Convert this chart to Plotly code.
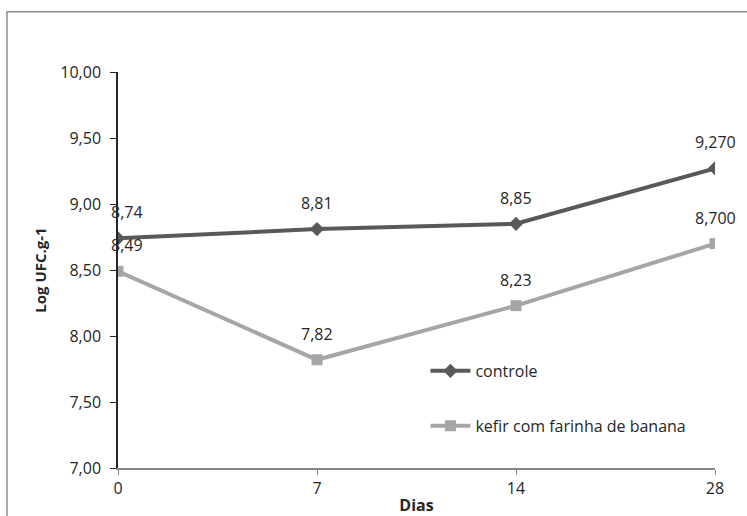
import plotly.graph_objects as go

# Data
dias = ["0", "7", "14", "28"]
controle = [8.74, 8.81, 8.85, 9.27]
kefir_banana = [8.49, 7.82, 8.23, 8.70]
controle_decimals = [2, 2, 2, 3]
kefir_decimals = [2, 2, 2, 3]
y_ticks = [7.0, 7.5, 8.0, 8.5, 9.0, 9.5, 10.0]


def fmt(values, decimals):
    return [f"{v:.{d}f}".replace(".", ",") for v, d in zip(values, decimals)]


FONT = "Open Sans, Liberation Sans, sans-serif"
DARK = "#595959"
LIGHT = "#a6a6a6"
TEXT = "#262626"

fig = go.Figure()

fig.add_trace(go.Scatter(
    x=dias, y=controle, name="controle", legendgroup="a",
    mode="lines+markers",
    line=dict(color=DARK, width=4),
    marker=dict(symbol="diamond", size=11, color=DARK),
))
fig.add_trace(go.Scatter(
    x=dias, y=kefir_banana, name="kefir com farinha de banana", legendgroup="b",
    mode="lines+markers",
    line=dict(color=LIGHT, width=4),
    marker=dict(symbol="square", size=11, color=LIGHT),
))

# Value labels above each point (category axis positions are indices)
for values, decimals in ((controle, controle_decimals), (kefir_banana, kefir_decimals)):
    for i, (y, label) in enumerate(zip(values, fmt(values, decimals))):
        fig.add_annotation(
            x=i, y=y, text=label, showarrow=False,
            yshift=26, xshift=9 if i == 0 else 0,
            font=dict(size=16, color=TEXT, family=FONT),
        )

# Outer chart frame
fig.add_shape(type="rect", xref="paper", yref="paper",
              x0=-0.186, x1=1.3, y0=-0.3, y1=1.152,
              line=dict(color="#8c8c8c", width=1.5), layer="below")

fig.update_layout(
    width=747, height=516,
    margin=dict(l=118, r=32, t=72, b=48, autoexpand=False),
    paper_bgcolor="white", plot_bgcolor="white",
    separators=",.",
    font=dict(family=FONT, size=16, color=TEXT),
    showlegend=True,
    legend=dict(x=0.515, y=0.288, xanchor="left", yanchor="top",
                bgcolor="rgba(0,0,0,0)", tracegroupgap=31,
                traceorder="grouped", itemwidth=40,
                font=dict(size=16, color=TEXT, family=FONT)),
    xaxis=dict(
        type="category", range=[0, 3], automargin=False,
        showgrid=False, showline=True, linecolor="#868686", linewidth=1.5,
        ticks="outside", ticklen=5, tickcolor="#868686",
        ticklabelstandoff=0,
        tickfont=dict(size=16, color=TEXT),
        title=dict(text="<b>Dias</b>", font=dict(size=16, color=TEXT), standoff=4),
    ),
    yaxis=dict(
        range=[7, 10], tickvals=y_ticks, tickformat=".2f", automargin=False,
        showgrid=False, zeroline=False, showline=True, linecolor=TEXT, linewidth=1.5,
        ticks="outside", ticklen=6, tickcolor=TEXT,
        ticklabelstandoff=6,
        tickfont=dict(size=16, color=TEXT),
        title=dict(text="<b>Log UFC.g-1</b>", font=dict(size=15, color=TEXT), standoff=10),
    ),
)

fig.write_html("out.html")
